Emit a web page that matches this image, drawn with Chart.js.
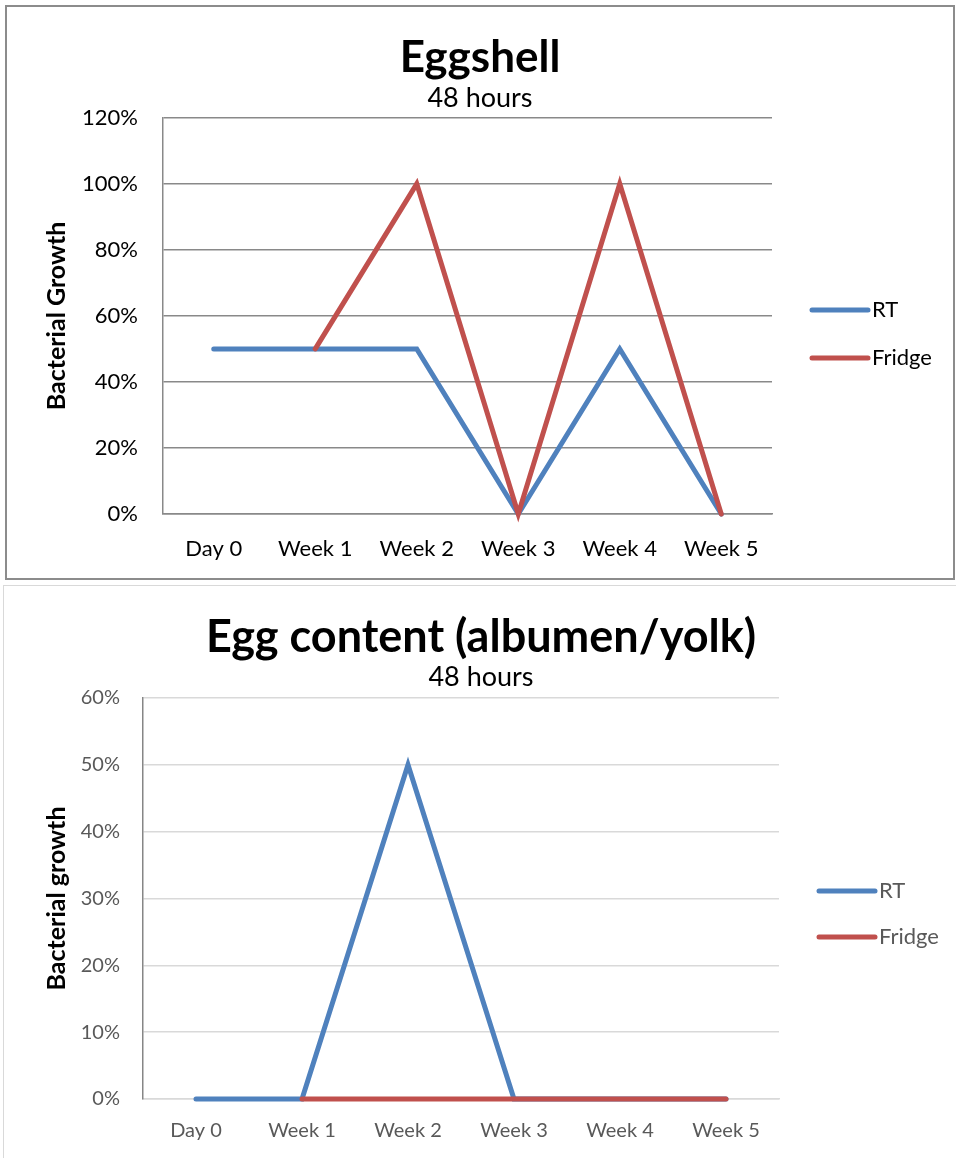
<!DOCTYPE html>
<html>
<head>
<meta charset="utf-8">
<script src="https://cdn.jsdelivr.net/npm/chart.js@4.4.1/dist/chart.umd.min.js"></script>
<style>
  body { margin: 0; background: #fff; width: 956px; height: 1158px; overflow: hidden; position: relative; }
  .box { position: absolute; box-sizing: border-box; background: #fff; }
  #box1 { left: 5px; top: 5px; width: 950px; height: 575px; border: 2px solid #8c8c8c; }
  #box2 { left: 3px; top: 585px; width: 956px; height: 580px; border: 1px solid #d9d9d9; }
  canvas { display: block; }
</style>
</head>
<body>
<div class="box" id="box1"><canvas id="shellChart" width="946" height="571"></canvas></div>
<div class="box" id="box2"><canvas id="contentChart" width="954" height="578"></canvas></div>
<script>
// ====== データ ======
const categories = ["Day 0", "Week 1", "Week 2", "Week 3", "Week 4", "Week 5"];
const seriesNames = ["RT", "Fridge"];

// Eggshell (%)
const shellRT     = [50, 50, 50, 0, 50, 0];
const shellFridge = [null, 50, 100, 0, 100, 0];
const shellMax = 120;
const shellStep = 20;

// Egg content (%)
const contentRT     = [0, 0, 50, 0, 0, 0];
const contentFridge = [null, 0, 0, 0, 0, 0];
const contentMax = 60;
const contentStep = 10;

const BLUE = "#4f81bd";
const RED = "#c0504d";
const FONT = "Lato, 'Open Sans', sans-serif";

// 右側の凡例（線＋ラベル）
const sideLegend = {
  id: "sideLegend",
  afterDraw(chart, args, opts) {
    const ctx = chart.ctx;
    ctx.save();
    chart.data.datasets.forEach((ds, i) => {
      const y = opts.y + i * opts.gap;
      ctx.strokeStyle = ds.borderColor;
      ctx.lineWidth = ds.borderWidth;
      ctx.lineCap = "round";
      ctx.beginPath();
      ctx.moveTo(opts.x, y);
      ctx.lineTo(opts.x + opts.len, y);
      ctx.stroke();
      ctx.fillStyle = opts.color;
      ctx.font = opts.size + "px " + FONT;
      ctx.textBaseline = "middle";
      ctx.textAlign = "left";
      ctx.fillText(ds.label, opts.x + opts.len + opts.textGap, y);
    });
    ctx.restore();
  }
};

function makeDatasets(rt, fridge) {
  return [rt, fridge].map((values, i) => ({
    label: seriesNames[i],
    data: values,
    order: i === 0 ? 1 : 0,   // Fridge を上に描く
    clip: false,
    borderColor: i === 0 ? BLUE : RED,
    backgroundColor: i === 0 ? BLUE : RED,
    borderWidth: 5,
    pointRadius: 0,
    pointHoverRadius: 0,
    tension: 0,
    fill: false,
    borderCapStyle: "round",
    borderJoinStyle: "miter"
  }));
}

function buildChart(canvasId, cfg) {
  return new Chart(document.getElementById(canvasId), {
    type: "line",
    data: {
      labels: categories,
      datasets: makeDatasets(cfg.rt, cfg.fridge)
    },
    plugins: [sideLegend],
    options: {
      responsive: false,
      animation: false,
      devicePixelRatio: 1,
      layout: { padding: 0 },
      plugins: {
        legend: { display: false },
        tooltip: { enabled: false },
        title: {
          display: true,
          text: cfg.title,
          color: "#000",
          font: { family: FONT, size: cfg.titleSize, weight: "bold", lineHeight: 1.2 },
          padding: { top: cfg.titlePadTop, bottom: 0 }
        },
        subtitle: {
          display: true,
          text: "48 hours",
          color: "#000",
          font: { family: FONT, size: 27, lineHeight: 1 },
          padding: { top: cfg.subPadTop, bottom: cfg.subPadBottom }
        },
        sideLegend: cfg.legend
      },
      scales: {
        x: {
          offset: true,
          afterFit: s => { s.height = cfg.xHeight; },
          grid: { display: false, drawTicks: false },
          border: { display: true, color: cfg.gridColor, width: 1.5 },
          ticks: {
            color: cfg.tickColor,
            padding: cfg.xTickPad,
            maxRotation: 0,
            font: { family: FONT, size: cfg.tickSize }
          }
        },
        y: {
          min: 0,
          max: cfg.max,
          afterFit: s => { s.width = cfg.yWidth; },
          grid: { color: cfg.gridColor, lineWidth: 1.5, drawTicks: false },
          border: { display: true, color: cfg.axisColor, width: 1.5 },
          ticks: {
            stepSize: cfg.step,
            color: cfg.tickColor,
            padding: cfg.yTickPad,
            font: { family: FONT, size: cfg.tickSize },
            callback: v => v + "%"
          },
          title: {
            display: true,
            text: cfg.yTitle,
            color: "#000",
            font: { family: FONT, size: 25, weight: "bold", lineHeight: 1.2 },
            padding: { top: cfg.yTitlePad, bottom: 0 }
          }
        },
        // 凡例用の右側スペース
        legendSpace: {
          type: "linear",
          axis: "y",
          position: "right",
          afterFit: s => { s.width = cfg.rightSpace; },
          grid: { display: false, drawTicks: false },
          border: { display: false },
          ticks: { display: false }
        }
      }
    }
  });
}

buildChart("shellChart", {
  rt: shellRT, fridge: shellFridge, max: shellMax, step: shellStep,
  title: "Eggshell", titleSize: 44, titlePadTop: 24, subPadTop: 1, subPadBottom: 6,
  rightSpace: 181, yWidth: 156, xHeight: 64, xTickPad: 22, yTickPad: 25, yTitlePad: 35,
  tickSize: 22, tickColor: "#000", gridColor: "#898989", axisColor: "#898989",
  yTitle: "Bacterial Growth",
  legend: { x: 805, y: 303, gap: 48, len: 56, textGap: 4, size: 22, color: "#000" }
});

buildChart("contentChart", {
  rt: contentRT, fridge: contentFridge, max: contentMax, step: contentStep,
  title: "Egg content (albumen/yolk)", titleSize: 45, titlePadTop: 24, subPadTop: 0, subPadBottom: 7,
  rightSpace: 179, yWidth: 139, xHeight: 65, xTickPad: 20, yTickPad: 23, yTitlePad: 38,
  tickSize: 20, tickColor: "#595959", gridColor: "#d9d9d9", axisColor: "#868686",
  yTitle: "Bacterial growth",
  legend: { x: 815, y: 305, gap: 46, len: 56, textGap: 4, size: 22, color: "#595959" }
});
</script>
</body>
</html>
